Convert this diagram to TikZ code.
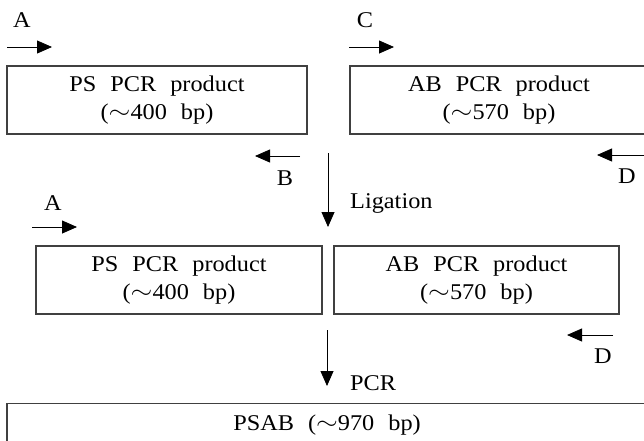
\documentclass[tikz,border=0pt]{standalone}
\usepackage{fontspec}
\setmainfont{Liberation Serif}[FakeStretch=1.08]
\usetikzlibrary{positioning, arrows.meta}
\newcommand{\approxsign}{\raisebox{1pt}{\scalebox{1.35}[1.1]{$\sim$}}}

\begin{document}
\begin{tikzpicture}[x=1pt, y=-1pt,
    product/.style={draw=black!75, line width=1.1pt, align=center, inner sep=0pt,
      font=\fontsize{22.5}{28}\selectfont, execute at begin node={\spaceskip=14pt\relax}},
    primer/.style={-{Triangle[length=15pt, width=13pt]}, line width=0.8pt},
    lbl/.style={inner sep=0pt, font=\fontsize{22.5}{28}\selectfont}]
            \useasboundingbox (0,0) rectangle (644,440);
            \clip (0,0) rectangle (644,440);
            % top row
            \node [product, minimum width=300pt, minimum height=68pt] (PS) at (157,100) {PS PCR product\\(\approxsign400 bp)};
            \node [product, minimum width=298pt, minimum height=68pt] (AB) at (499,100) {AB PCR product\\(\approxsign570 bp)};
            \node [lbl, anchor=base] (A) at (22,27) {A};
            \node [lbl, anchor=base] (C) at (365,27) {C};
            \node [lbl, anchor=base] (B) at (285,185) {B};
            \node [lbl, anchor=base] (D) at (627,183) {D};
            \draw[primer] (7,47) -- (52,47);
            \draw[primer] (349,47) -- (394,47);
            \draw[primer] (300,156) -- (255,156);
            \draw[primer] (644,155) -- (597,155);
            % ligation
            \coordinate (ligtop) at (328,153);
            \coordinate (ligend) at (328,227);
            \draw[primer] (ligtop) -- (ligend);
            \node [lbl, anchor=base west] (lig) at (350,208) {Ligation};
            % middle row
            \node [product, minimum width=286pt, minimum height=68pt] (PSl) at (179,280) {PS PCR product\\(\approxsign400 bp)};
            \node [product, minimum width=285pt, minimum height=68pt] (ABl) at (476.5,280) {AB PCR product\\(\approxsign570 bp)};
            \node [lbl, anchor=base] (A2) at (53,210) {A};
            \node [lbl, anchor=base] (D2) at (603,363) {D};
            \draw[primer] (32,227) -- (77,227);
            \draw[primer] (613,335) -- (567,335);
            % pcr
            \coordinate (pcrtop) at (327,330);
            \coordinate (pcrend) at (327,386);
            \draw[primer] (pcrtop) -- (pcrend);
            \node [lbl, anchor=base west] (pcr) at (350,390) {PCR};
            \node [product, minimum width=640pt, text height=27pt, text depth=41pt, anchor=north] (PSAB) at (327,403) {PSAB (\approxsign970 bp)};
        \end{tikzpicture}
\end{document}
